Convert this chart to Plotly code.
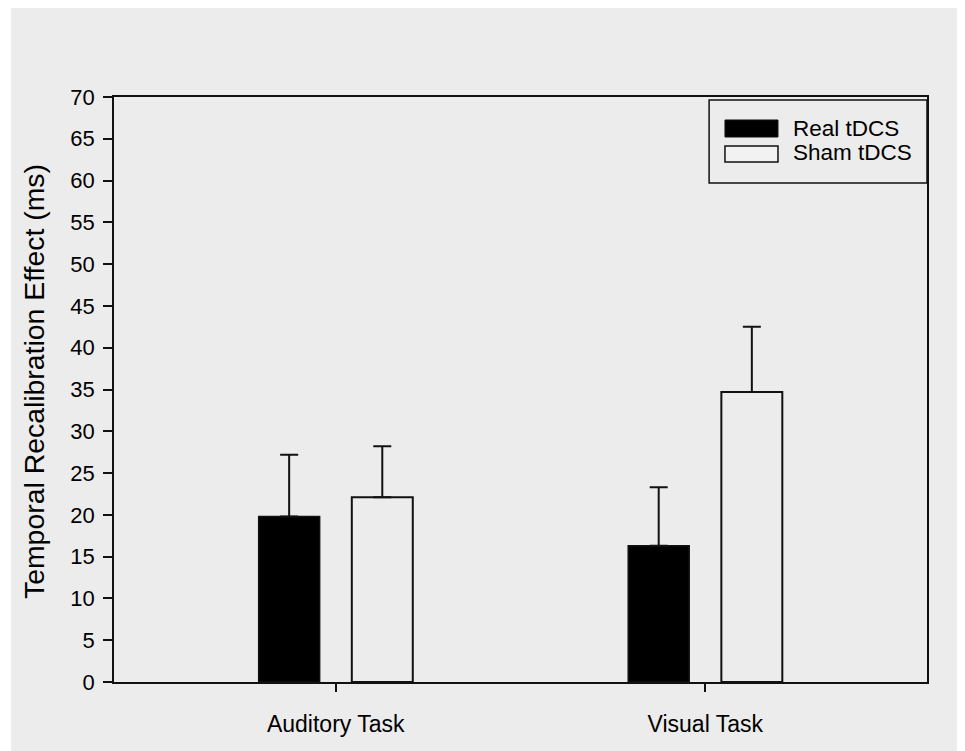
import plotly.graph_objects as go

categories = ["Auditory Task", "Visual Task"]
series_names = ["Real tDCS", "Sham tDCS"]
real_means = [19.8, 16.3]
real_err = [7.4, 7.0]
sham_means = [22.1, 34.7]
sham_err = [6.1, 7.8]
y_tick_vals = list(range(0, 75, 5))
y_title = "Temporal Recalibration Effect (ms)"

FONT = "Liberation Sans, Arial, sans-serif"
BG = "#ececec"
INK = "#111111"

fig = go.Figure()
fig.add_trace(go.Bar(
    x=categories, y=real_means, name=series_names[0],
    width=0.165, offset=-0.2085,
    marker=dict(color="#000000", line=dict(color=INK, width=1.5)),
    error_y=dict(type="data", symmetric=False, array=real_err,
                 arrayminus=[0] * len(real_err), color=INK, thickness=2, width=9),
    showlegend=False,
))
fig.add_trace(go.Bar(
    x=categories, y=sham_means, name=series_names[1],
    width=0.165, offset=0.0435,
    marker=dict(color=BG, line=dict(color=INK, width=2)),
    error_y=dict(type="data", symmetric=False, array=sham_err,
                 arrayminus=[0] * len(sham_err), color=INK, thickness=2, width=9),
    showlegend=False,
))

shapes = [
    # grey panel behind everything
    dict(type="rect", xref="paper", yref="paper", x0=-0.1267, x1=1.2, y0=-0.3, y1=1.2,
         fillcolor=BG, line=dict(width=0), layer="below"),
    # legend box
    dict(type="rect", xref="paper", yref="paper", x0=0.732, x1=1.0, y0=0.853, y1=0.995,
         fillcolor="rgba(0,0,0,0)", line=dict(color=INK, width=1.5)),
    # legend swatches
    dict(type="rect", xref="paper", yref="paper", x0=0.7515, x1=0.8167, y0=0.9316, y1=0.9607,
         fillcolor="#000000", line=dict(color=INK, width=1)),
    dict(type="rect", xref="paper", yref="paper", x0=0.7515, x1=0.8167, y0=0.8889, y1=0.9162,
         fillcolor="#f2f2f2", line=dict(color=INK, width=1.5)),
]
annotations = [
    dict(text=series_names[0], xref="paper", yref="paper", x=0.8327, y=0.9458,
         xanchor="left", yanchor="middle", showarrow=False,
         font=dict(family=FONT, size=22.5, color="#000000")),
    dict(text=series_names[1], xref="paper", yref="paper", x=0.8327, y=0.9043,
         xanchor="left", yanchor="middle", showarrow=False,
         font=dict(family=FONT, size=22.5, color="#000000")),
    dict(text=y_title, xref="paper", yref="paper", x=-0.0984, y=0.5128,
         xanchor="center", yanchor="middle", textangle=-90, showarrow=False,
         font=dict(family=FONT, size=28.4, color="#000000")),
]

fig.update_layout(
    width=965, height=751,
    margin=dict(l=106, r=46, t=89, b=77),
    paper_bgcolor="white", plot_bgcolor=BG,
    barmode="overlay",
    font=dict(family=FONT, color="#000000"),
    shapes=shapes, annotations=annotations,
    xaxis=dict(
        type="category", range=[-0.6, 1.6],
        showgrid=False, zeroline=False,
        showline=True, linecolor=INK, linewidth=1.5, mirror=True,
        ticks="outside", ticklen=8, tickwidth=1.5, tickcolor=INK,
        tickfont=dict(family=FONT, size=23, color="#000000"),
        ticklabelstandoff=13,
    ),
    yaxis=dict(
        range=[0, 70], tickvals=y_tick_vals,
        showgrid=False, zeroline=False,
        showline=True, linecolor=INK, linewidth=1.5, mirror=True,
        ticks="outside", ticklen=9, tickwidth=1.5, tickcolor=INK,
        tickfont=dict(family=FONT, size=22, color="#000000"),
        ticklabelstandoff=4,
    ),
)

fig.write_html("out.html", config={"displayModeBar": False})
